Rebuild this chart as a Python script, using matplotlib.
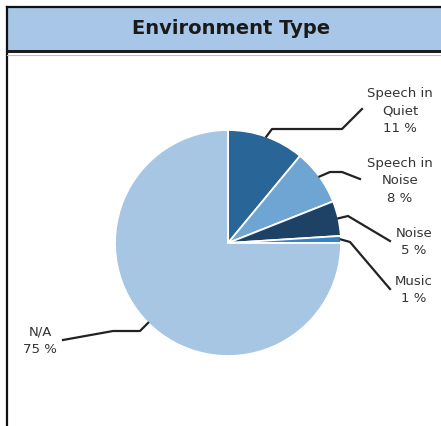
import numpy as np
import matplotlib.pyplot as plt
from matplotlib.patches import Rectangle

# dados
categorias = ["Speech in\nQuiet", "Speech in\nNoise", "Noise", "Music", "N/A"]
valores = [11, 8, 5, 1, 75]
cores = ["#2a6597", "#6ea5d3", "#1e4266", "#3583c6", "#a6c6e4"]
titulo = "Environment Type"

# posições dos rótulos (pixels, origem no canto superior esquerdo)
pos_rotulo = [(400, 111), (400, 181), (414, 242), (414, 290), (40, 341)]
# cotovelos das linhas de chamada
cotovelos = [
    [(272, 130), (342, 130), (362, 110)],
    [(330, 173), (342, 173), (360, 180)],
    [(348, 217), (390, 242)],
    [(350, 243), (390, 290)],
    [(140, 332), (113, 332), (63, 341)],
]

W, H = 441, 427
fig = plt.figure(figsize=(W / 100, H / 100), dpi=100)
ax = fig.add_axes([0, 0, 1, 1])

def py(y):
    return H - y

# moldura e cabeçalho
ax.add_patch(Rectangle((7, py(51)), W, 42, facecolor="#a8c6e7", edgecolor="none", zorder=1))
ax.plot([7, W], [py(8), py(8)], color="#111111", lw=1.6, zorder=2)
ax.plot([7, 7], [0, py(8)], color="#111111", lw=1.6, zorder=2)
ax.add_patch(Rectangle((7, py(54)), W, 3.5, facecolor="#1c1c1c", edgecolor="none", zorder=2))
ax.plot([7, W], [py(55.5), py(55.5)], color="#c0c0c0", lw=0.8, zorder=2)
ax.text(231, py(29), titulo, ha="center", va="center", fontsize=14,
        fontweight="bold", color="#1a1a1a", zorder=3)

# pizza
cx, cy, r = 228, py(244), 113
wedges, _ = ax.pie(valores, colors=cores, startangle=90, counterclock=False,
                   center=(cx, cy), radius=r, frame=True,
                   wedgeprops=dict(edgecolor="white", linewidth=1.3))
ax.set_xlim(0, W)
ax.set_ylim(0, H)
ax.axis("off")

# rótulos e linhas de chamada
for w, cat, v, (tx, ty), cot in zip(wedges, categorias, valores, pos_rotulo, cotovelos):
    ang = np.deg2rad((w.theta1 + w.theta2) / 2)
    x0 = cx + r * np.cos(ang)
    y0 = cy + r * np.sin(ang)
    xs = [x0] + [p[0] for p in cot]
    ys = [y0] + [py(p[1]) for p in cot]
    ax.plot(xs, ys, color="#222222", lw=1.6, zorder=4)
    ax.text(tx, py(ty), f"{cat}\n{v} %", ha="center", va="center",
            fontsize=9.5, color="#333333", linespacing=1.45, zorder=4)

fig.savefig("out.png", dpi=100)
